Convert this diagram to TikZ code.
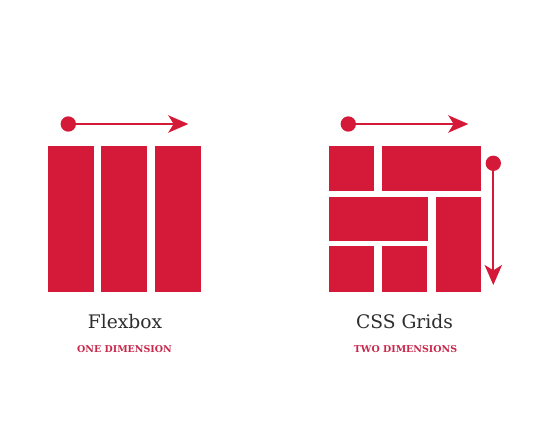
\documentclass[tikz,border=0pt]{standalone}
\usepackage{fontspec}
\setmainfont{DejaVu Serif}
\usetikzlibrary{arrows.meta}
\definecolor{brick}{RGB}{212,26,56}
\definecolor{caption}{RGB}{200,40,76}
\definecolor{ink}{RGB}{45,45,45}
\begin{document}
\begin{tikzpicture}[x=0.75pt,y=-0.75pt,
  block/.style={fill=brick},
  dot/.style={circle,fill=brick,inner sep=0pt,minimum size=11.5pt},
  flow/.style={draw=brick,line width=1.6pt,
    -{Stealth[length=15pt,width=13pt,inset=4pt]}},
  heading/.style={text=ink,font=\fontsize{14}{16}\selectfont,anchor=base,inner sep=0pt},
  subhead/.style={text=caption,font=\bfseries\fontsize{7.1}{9}\selectfont,anchor=base,inner sep=0pt}]
\useasboundingbox (0,0) rectangle (548,446);
\fill[white] (0,0) rectangle (548,446);

% Flexbox: three columns along one axis
\fill[block] (48.3,145.7) rectangle (94,291.7);
\fill[block] (101,145.7) rectangle (147.3,291.7);
\fill[block] (155,145.7) rectangle (201.3,291.7);
\node[dot] (fdot) at (68.3,124) {};
\coordinate (fend) at (188.3,124);
\draw[flow] (fdot.center) -- (fend);

% CSS Grid: cells spanning rows and columns
\fill[block] (329.3,146) rectangle (374.3,190.7);
\fill[block] (381.7,146) rectangle (480.7,190.7);
\fill[block] (329.3,196.7) rectangle (428.3,240.7);
\fill[block] (435.7,196.7) rectangle (480.7,291.7);
\fill[block] (329.3,246) rectangle (374.3,291.7);
\fill[block] (382.3,246) rectangle (427.3,291.7);
\node[dot] (gdot) at (348.3,124) {};
\coordinate (gend) at (468.3,124);
\draw[flow] (gdot.center) -- (gend);
\node[dot] (vdot) at (493.3,163.3) {};
\coordinate (vend) at (493.3,285);
\draw[flow] (vdot.center) -- (vend);

% Labels
\node[heading] (flexname) at (125,328) {Flexbox};
\node[subhead] (flexdim) at (124.5,352.3) {ONE DIMENSION};
\node[heading] (gridname) at (404.5,328) {CSS Grids};
\node[subhead] (griddim) at (405.5,352.3) {TWO DIMENSIONS};
\end{tikzpicture}
\end{document}
